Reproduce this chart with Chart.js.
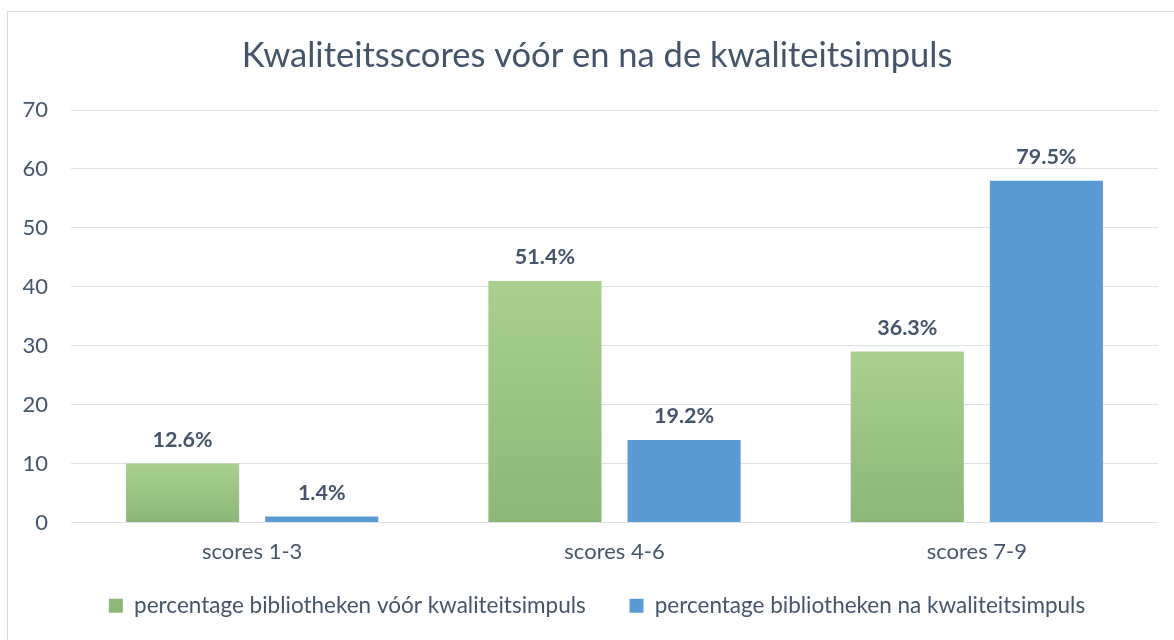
<!DOCTYPE html>
<html>
<head>
<meta charset="utf-8">
<script src="https://cdn.jsdelivr.net/npm/chart.js@4.4.1/dist/chart.umd.min.js"></script>
<style>
  html, body { margin: 0; padding: 0; background: #fff; overflow: hidden; width: 1174px; height: 640px; }
  #frame { position: absolute; left: 7px; top: 11px; width: 1200px; height: 660px; border: 1px solid #d9d9d9; box-sizing: border-box; }
  #box { position: absolute; left: 0; top: 0; width: 1194px; height: 640px; }
</style>
</head>
<body>
<div id="frame"></div>
<div id="box"><canvas id="chart"></canvas></div>
<script>
const categories = ["scores 1-3", "scores 4-6", "scores 7-9"];
const voorValues = [10, 41, 29];
const naValues = [1, 14, 58];
const voorLabels = ["12.6%", "51.4%", "36.3%"];
const naLabels = ["1.4%", "19.2%", "79.5%"];
const seriesNames = ["percentage bibliotheken vóór kwaliteitsimpuls", "percentage bibliotheken na kwaliteitsimpuls"];
const yMax = 70;
const yStep = 10;

const textColor = "#44546A";
const fontFamily = "Lato, 'Open Sans', sans-serif";

function greenFill(ctx) {
  const chart = ctx.chart;
  if (ctx.type !== "data" || !chart.chartArea) return "#A3CA8A";
  const y = chart.scales.y;
  const top = y.getPixelForValue(ctx.raw);
  const bottom = y.getPixelForValue(0);
  const g = chart.ctx.createLinearGradient(0, top, 0, bottom);
  g.addColorStop(0, "#A9D08F");
  g.addColorStop(1, "#8CB778");
  return g;
}

// value labels above the bars
const barLabels = {
  id: "barLabels",
  afterDatasetsDraw(chart) {
    const { ctx } = chart;
    const texts = [voorLabels, naLabels];
    ctx.save();
    ctx.font = "bold 21.5px " + fontFamily;
    ctx.fillStyle = textColor;
    ctx.textAlign = "center";
    ctx.textBaseline = "alphabetic";
    chart.data.datasets.forEach((ds, i) => {
      chart.getDatasetMeta(i).data.forEach((bar, j) => {
        ctx.fillText(texts[i][j], bar.x, bar.y - 17);
      });
    });
    ctx.restore();
  },
};

new Chart(document.getElementById("chart"), {
  type: "bar",
  data: {
    labels: categories,
    datasets: [
      {
        label: seriesNames[0],
        data: voorValues,
        backgroundColor: greenFill,
        categoryPercentage: 0.768,
        barPercentage: 0.813,
      },
      {
        label: seriesNames[1],
        data: naValues,
        backgroundColor: "#5B9BD5",
        categoryPercentage: 0.768,
        barPercentage: 0.813,
      },
    ],
  },
  options: {
    responsive: true,
    maintainAspectRatio: false,
    animation: false,
    layout: { padding: { left: 0, right: 0, top: 0, bottom: 13 } },
    plugins: {
      title: {
        display: true,
        text: "Kwaliteitsscores vóór en na de kwaliteitsimpuls",
        color: textColor,
        font: { family: fontFamily, size: 34.5, weight: "normal" },
        padding: { top: 35, bottom: 33.6 },
      },
      legend: {
        position: "bottom",
        labels: {
          color: textColor,
          font: { family: fontFamily, size: 22.5 },
          boxWidth: 14,
          boxHeight: 14,
          padding: 10,
          generateLabels(chart) {
            const items = Chart.defaults.plugins.legend.labels.generateLabels(chart);
            items[0].text = items[0].text + "\u2003\u2003";
            return items;
          },
        },
      },
      tooltip: { enabled: false },
    },
    scales: {
      x: {
        grid: { display: false, drawTicks: false },
        border: { display: false },
        ticks: { color: textColor, font: { family: fontFamily, size: 22 }, padding: 16 },
        afterFit(scale) { scale.height = 62; },
      },
      y: {
        min: 0,
        max: yMax,
        grid: { color: "#DDE1E6", drawTicks: false },
        border: { display: false },
        ticks: { stepSize: yStep, color: textColor, font: { family: fontFamily, size: 22 }, padding: 23 },
        afterFit(scale) { scale.width = 71; },
      },
      // empty right-hand margin so title and legend centre like the original
      yRight: {
        position: "right",
        min: 0,
        max: yMax,
        grid: { display: false },
        border: { display: false },
        ticks: { display: false },
        afterFit(scale) { scale.width = 36; },
      },
    },
  },
  plugins: [barLabels],
});
</script>
</body>
</html>
